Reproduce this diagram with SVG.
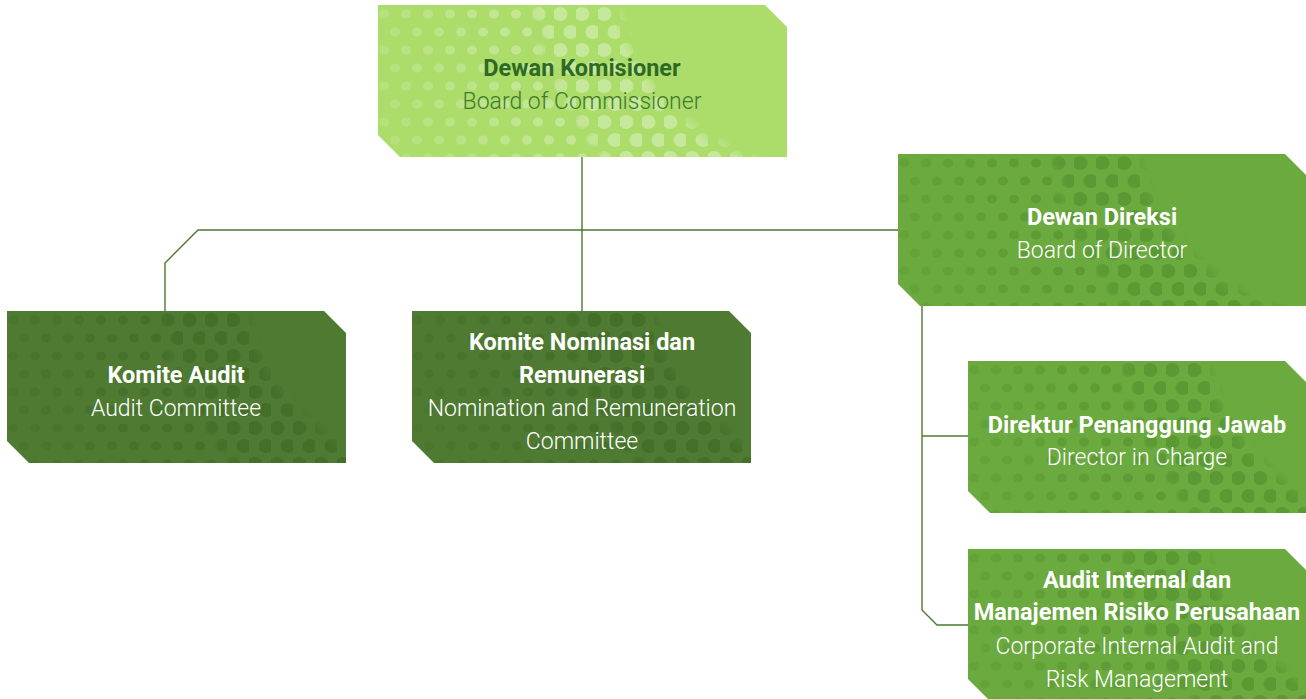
<svg xmlns="http://www.w3.org/2000/svg" width="1306" height="699" viewBox="0 0 1306 699">
<style>
.t{font-family:Roboto,"Liberation Sans",sans-serif;font-size:23.5px;font-weight:700;text-anchor:middle}
.s{font-family:Roboto,"Liberation Sans",sans-serif;font-size:23px;font-weight:300;text-anchor:middle}
.w{fill:#ffffff}
.conn{fill:none;stroke:#4b7a2e;stroke-width:1.4}
.light{fill:#acdd6b}
.mid{fill:#6aaa3e}
.dark{fill:#4e7a31}
</style>
<defs>
<pattern id="bl" width="22" height="36" patternUnits="userSpaceOnUse">
<ellipse cx="6" cy="9" rx="7.5" ry="7" fill="#ffffff" fill-opacity="0.32"/>
<ellipse cx="17" cy="27" rx="7.5" ry="7" fill="#ffffff" fill-opacity="0.32"/>
</pattern>
<pattern id="sl" width="22" height="36" patternUnits="userSpaceOnUse">
<ellipse cx="6" cy="9" rx="5" ry="4.5" fill="#ffffff" fill-opacity="0.3"/>
<ellipse cx="17" cy="27" rx="5" ry="4.5" fill="#ffffff" fill-opacity="0.3"/>
</pattern>
<pattern id="bm" width="22" height="36" patternUnits="userSpaceOnUse">
<ellipse cx="6" cy="9" rx="7.5" ry="7" fill="#4f8a2c" fill-opacity="0.55"/>
<ellipse cx="17" cy="27" rx="7.5" ry="7" fill="#4f8a2c" fill-opacity="0.55"/>
</pattern>
<pattern id="sm" width="22" height="36" patternUnits="userSpaceOnUse">
<ellipse cx="6" cy="9" rx="5" ry="4.5" fill="#4f8a2c" fill-opacity="0.5"/>
<ellipse cx="17" cy="27" rx="5" ry="4.5" fill="#4f8a2c" fill-opacity="0.5"/>
</pattern>
<pattern id="bd" width="22" height="36" patternUnits="userSpaceOnUse">
<ellipse cx="6" cy="9" rx="7.5" ry="7" fill="#3d6a25" fill-opacity="0.65"/>
<ellipse cx="17" cy="27" rx="7.5" ry="7" fill="#3d6a25" fill-opacity="0.65"/>
</pattern>
<pattern id="sd" width="22" height="36" patternUnits="userSpaceOnUse">
<ellipse cx="6" cy="9" rx="5" ry="4.5" fill="#3d6a25" fill-opacity="0.6"/>
<ellipse cx="17" cy="27" rx="5" ry="4.5" fill="#3d6a25" fill-opacity="0.6"/>
</pattern>
<radialGradient id="gb" gradientUnits="userSpaceOnUse" cx="450" cy="-50" r="500">
<stop offset="0" stop-color="#000"/>
<stop offset="0.42" stop-color="#000"/>
<stop offset="0.45" stop-color="#fff"/>
<stop offset="0.58" stop-color="#fff"/>
<stop offset="0.62" stop-color="#000"/>
<stop offset="1" stop-color="#000"/>
</radialGradient>
<radialGradient id="gs" gradientUnits="userSpaceOnUse" cx="450" cy="-50" r="500">
<stop offset="0" stop-color="#000"/>
<stop offset="0.58" stop-color="#000"/>
<stop offset="0.62" stop-color="#fff"/>
<stop offset="1" stop-color="#444"/>
</radialGradient>
<mask id="mb" maskUnits="userSpaceOnUse" maskContentUnits="userSpaceOnUse" x="0" y="0" width="420" height="160">
<rect x="0" y="0" width="420" height="160" fill="url(#gb)"/>
</mask>
<mask id="ms" maskUnits="userSpaceOnUse" maskContentUnits="userSpaceOnUse" x="0" y="0" width="420" height="160">
<rect x="0" y="0" width="420" height="160" fill="url(#gs)"/>
</mask>
<path id="sw" d="M0,0 H387 L409,22 V152 H22 L0,130 Z"/>
<path id="sn" d="M0,0 H317 L339,22 V152 H22 L0,130 Z"/>
<path id="sr" d="M0,0 H317 L339,22 V152 H22 L0,130 Z"/>
</defs>
<g id="connectors">
<path class="conn" d="M582,157 V311"/>
<path class="conn" d="M898,230 H198 L165,263 V311"/>
<path class="conn" d="M922,306 V610 L937,625 H968"/>
<path class="conn" d="M922,436 H968"/>
</g>
<g id="node-dewan-komisioner" transform="translate(378,5)">
<use href="#sw" class="light"/>
<use href="#sw" fill="url(#bl)" mask="url(#mb)"/>
<use href="#sw" fill="url(#sl)" mask="url(#ms)"/>
<text class="t" x="204" y="71" fill="#2f6a25">Dewan Komisioner</text>
<text class="s" x="204" y="104" fill="#3f7a30">Board of Commissioner</text>
</g>
<g id="node-dewan-direksi" transform="translate(898,154)">
<use href="#sw" class="mid"/>
<use href="#sw" fill="url(#bm)" mask="url(#mb)"/>
<use href="#sw" fill="url(#sm)" mask="url(#ms)"/>
<text class="t w" x="204" y="71">Dewan Direksi</text>
<text class="s w" x="204" y="104">Board of Director</text>
</g>
<g id="node-komite-audit" transform="translate(7,311)">
<use href="#sn" class="dark"/>
<use href="#sn" fill="url(#bd)" mask="url(#mb)"/>
<use href="#sn" fill="url(#sd)" mask="url(#ms)"/>
<text class="t w" x="169" y="72">Komite Audit</text>
<text class="s w" x="169" y="105">Audit Committee</text>
</g>
<g id="node-komite-nominasi" transform="translate(412,311)">
<use href="#sn" class="dark"/>
<use href="#sn" fill="url(#bd)" mask="url(#mb)"/>
<use href="#sn" fill="url(#sd)" mask="url(#ms)"/>
<text class="t w" x="170" y="39">Komite Nominasi dan</text>
<text class="t w" x="170" y="72">Remunerasi</text>
<text class="s w" x="170" y="105">Nomination and Remuneration</text>
<text class="s w" x="170" y="138">Committee</text>
</g>
<g id="node-direktur" transform="translate(968,361)">
<use href="#sr" class="mid"/>
<use href="#sr" fill="url(#bm)" mask="url(#mb)"/>
<use href="#sr" fill="url(#sm)" mask="url(#ms)"/>
<text class="t w" x="169" y="72">Direktur Penanggung Jawab</text>
<text class="s w" x="169" y="104">Director in Charge</text>
</g>
<g id="node-audit-internal" transform="translate(968,549)">
<use href="#sr" class="mid"/>
<use href="#sr" fill="url(#bm)" mask="url(#mb)"/>
<use href="#sr" fill="url(#sm)" mask="url(#ms)"/>
<text class="t w" x="169" y="39">Audit Internal dan</text>
<text class="t w" x="169" y="71">Manajemen Risiko Perusahaan</text>
<text class="s w" x="169" y="105">Corporate Internal Audit and</text>
<text class="s w" x="169" y="138">Risk Management</text>
</g>
</svg>
